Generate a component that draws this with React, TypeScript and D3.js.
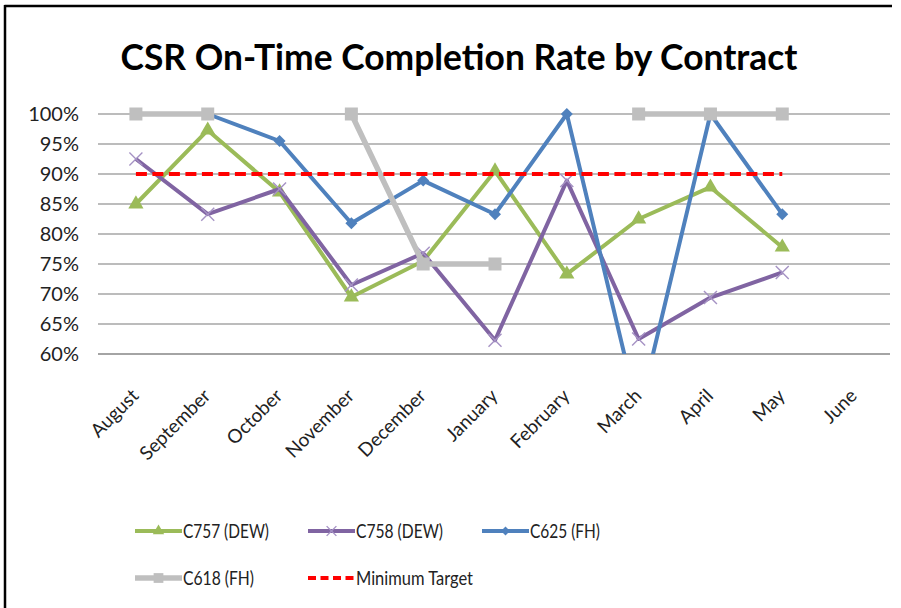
import React from "react";
import * as d3 from "d3";

const months = ["August", "September", "October", "November", "December", "January", "February", "March", "April", "May", "June"];
const c757 = [85, 97.3, 87, 69.5, 75.5, 90.5, 73.3, 82.5, 87.8, 77.8, null];
const c758 = [92.5, 83.3, 87.5, 71.5, 76.8, 62.3, 88.9, 62.5, 69.4, 73.6, null];
const c625 = [null, 100, 95.5, 81.8, 88.9, 83.3, 100, 50, 100, 83.3, null];
const c618 = [100, 100, null, 100, 75, 75, null, 100, 100, 100, null];
const minTarget = [90, 90, 90, 90, 90, 90, 90, 90, 90, 90, null];
const yTicks = [60, 65, 70, 75, 80, 85, 90, 95, 100];

const FONT = "Lato, 'Open Sans', sans-serif";

type Val = number | null;

const series = [
  { name: "C757 (DEW)", values: c757, color: "#9BBB59", width: 4, marker: "triangle" },
  { name: "C758 (DEW)", values: c758, color: "#8064A2", width: 4, marker: "cross" },
  { name: "C625 (FH)", values: c625, color: "#4F81BD", width: 4, marker: "diamond" },
  { name: "C618 (FH)", values: c618, color: "#BFBFBF", width: 5.5, marker: "square" },
  { name: "Minimum Target", values: minTarget, color: "#FF0000", width: 4, marker: "none", dash: "11,5.5" },
];

const Marker = ({ kind, x, y, color, s = 1 }: { kind: string; x: number; y: number; color: string; s?: number }) => {
  if (kind === "triangle") {
    const tri = d3.symbol(d3.symbolTriangle, 100 * s * s)();
    return <path d={tri || ""} transform={`translate(${x},${y})`} fill={color} />;
  }
  if (kind === "cross") {
    const r = 6.5 * s;
    return (
      <g stroke="#A592C4" strokeWidth={1.4}>
        <line x1={x - r} y1={y - r} x2={x + r} y2={y + r} />
        <line x1={x - r} y1={y + r} x2={x + r} y2={y - r} />
      </g>
    );
  }
  if (kind === "diamond") {
    const r = 6 * s;
    return <path d={`M${x},${y - r}L${x + r},${y}L${x},${y + r}L${x - r},${y}Z`} fill={color} />;
  }
  if (kind === "square") {
    const r = 6.5 * s;
    return <rect x={x - r} y={y - r} width={2 * r} height={2 * r} fill={color} />;
  }
  return null;
};

export default function App() {
  const plotLeft = 100;
  const plotRight = 890;
  const x = d3.scalePoint<string>().domain(months).range([plotLeft, plotRight]).padding(0.5);
  const y = d3.scaleLinear().domain([60, 100]).range([354, 114]);

  const line = d3
    .line<Val>()
    .defined((d) => d !== null)
    .x((_, i) => x(months[i]) as number)
    .y((d) => y(d as number));

  const legendItems = [
    { s: series[0], lx: 135, ly: 531, tw: 86 },
    { s: series[1], lx: 308, ly: 531, tw: 87 },
    { s: series[2], lx: 482, ly: 531, tw: 70 },
    { s: series[3], lx: 135, ly: 578, tw: 71 },
    { s: series[4], lx: 308, ly: 578, tw: 117 },
  ];

  return (
    <svg width={901} height={608} style={{ position: "absolute", left: 0, top: 0, background: "#fff" }}>
      <defs>
        <clipPath id="plotClip">
          <rect x={plotLeft - 10} y={100} width={plotRight - plotLeft + 20} height={254} />
        </clipPath>
      </defs>
      <rect x={0} y={0} width={901} height={608} fill="#fff" />
      {/* frame */}
      <line x1={4.5} y1={6} x2={892} y2={6} stroke="#000" strokeWidth={2.5} />
      <line x1={5} y1={5} x2={5} y2={608} stroke="#000" strokeWidth={2.5} />

      <text x={459} y={70} textAnchor="middle" fontFamily={FONT} fontWeight="bold" fontSize={37} textLength={677} lengthAdjust="spacingAndGlyphs">
        CSR On-Time Completion Rate by Contract
      </text>

      {/* grid */}
      {yTicks.map((t) => (
        <g key={t}>
          <line x1={plotLeft - 2} x2={plotRight} y1={y(t)} y2={y(t)} stroke={t === 60 ? "#868686" : "#A6A6A6"} strokeWidth={1.3} />
          <text x={79} y={y(t) + 7} textAnchor="end" fontFamily={FONT} fontSize={20} fill="#222">
            {t}%
          </text>
        </g>
      ))}

      {/* x labels */}
      {months.map((m) => {
        const cx = x(m) as number;
        return (
          <text key={m} transform={`translate(${cx + 4},${397}) rotate(-45)`} textAnchor="end" fontFamily={FONT} fontSize={19} fill="#222">
            {m}
          </text>
        );
      })}

      {/* series */}
      <g clipPath="url(#plotClip)">
        {series.map((s) => (
          <g key={s.name}>
            <path d={line(s.values) || ""} fill="none" stroke={s.color} strokeWidth={s.width} strokeDasharray={s.dash} strokeLinejoin="round" />
            {s.values.map((v, i) =>
              v === null ? null : <Marker key={i} kind={s.marker} x={x(months[i]) as number} y={y(v)} color={s.color} />
            )}
          </g>
        ))}
      </g>

      {/* legend */}
      {legendItems.map(({ s, lx, ly, tw }) => (
        <g key={s.name}>
          <line x1={lx} x2={lx + 47} y1={ly} y2={ly} stroke={s.color} strokeWidth={s.width} strokeDasharray={s.dash ? "8,4.5" : undefined} />
          <Marker kind={s.marker} x={lx + 23.5} y={ly} color={s.color} s={0.75} />
          <text x={lx + 48} y={ly + 7} fontFamily={FONT} fontSize={20} fill="#222" textLength={tw} lengthAdjust="spacingAndGlyphs">
            {s.name}
          </text>
        </g>
      ))}
    </svg>
  );
}
